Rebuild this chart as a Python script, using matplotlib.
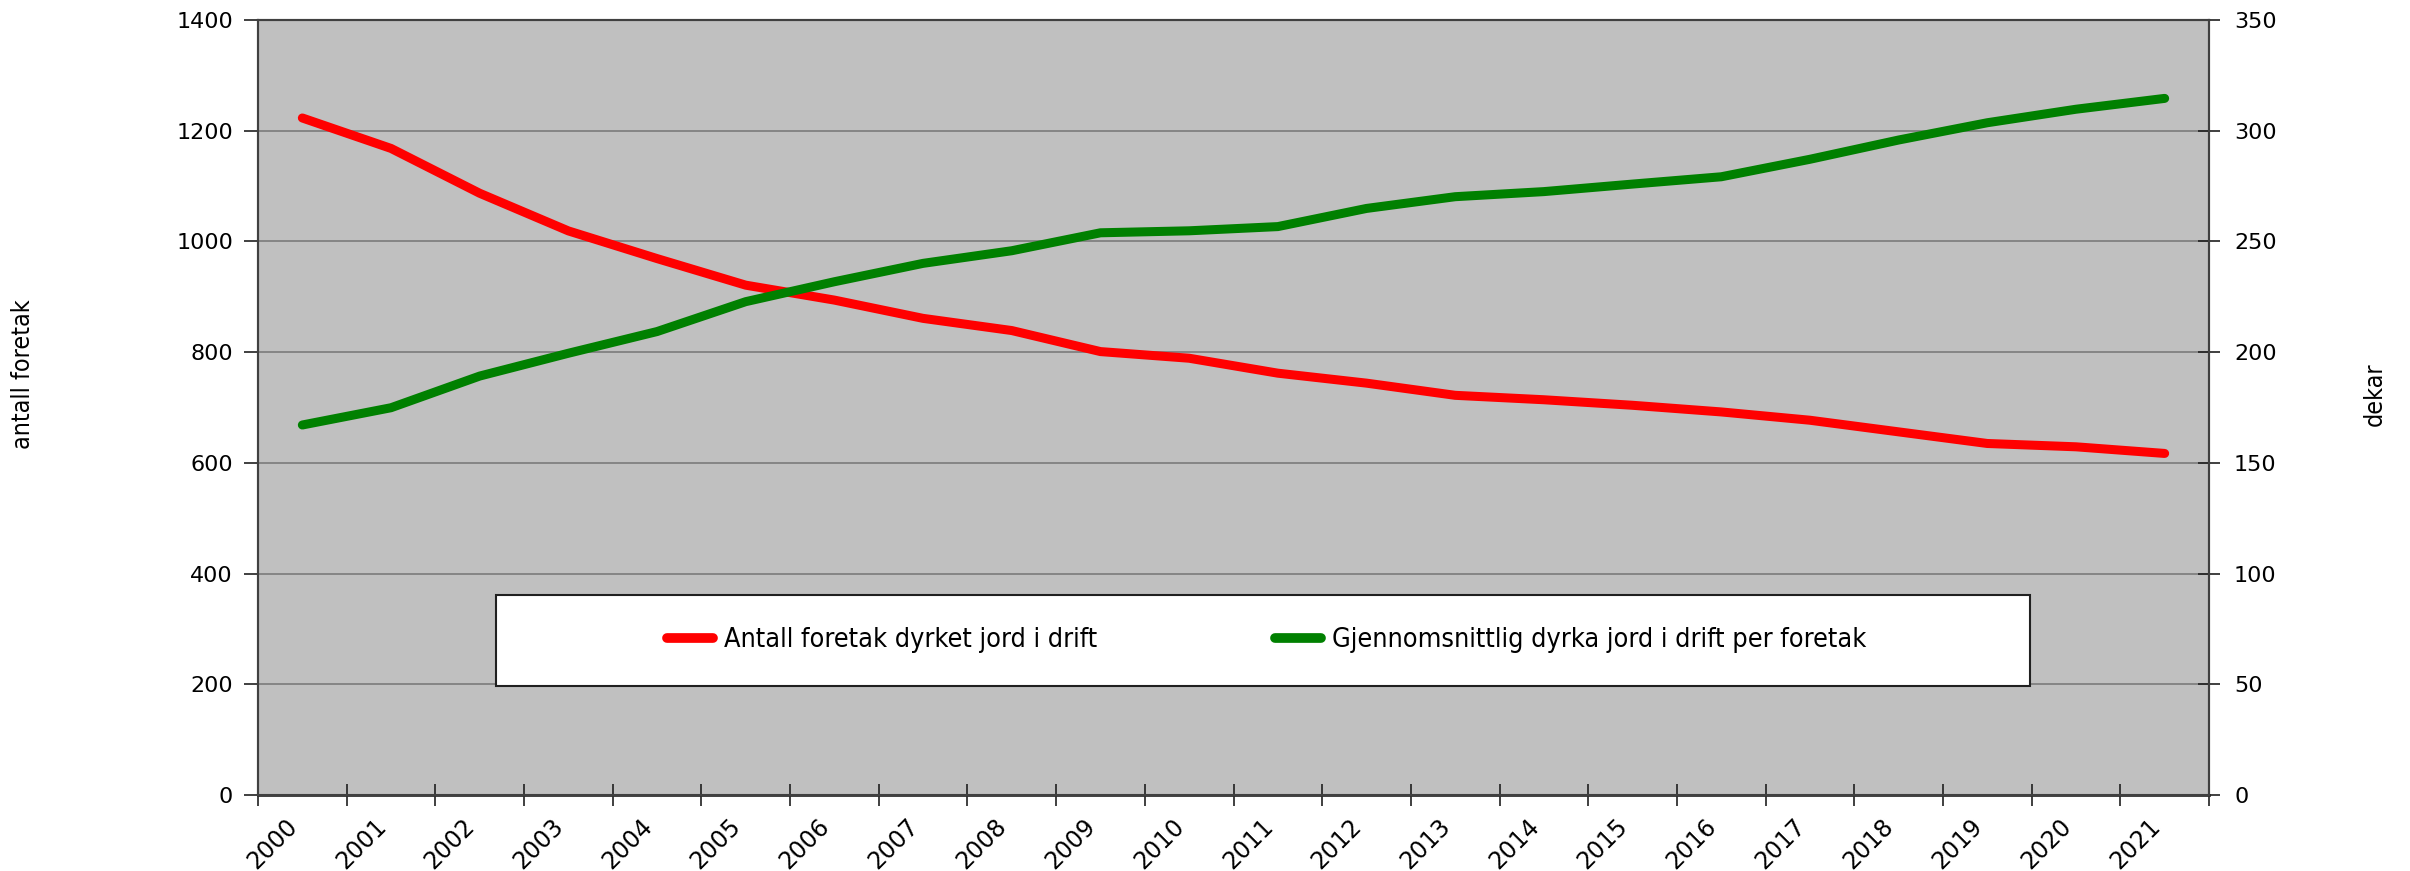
import matplotlib
matplotlib.use("Agg")
import matplotlib.pyplot as plt
from matplotlib.patches import Rectangle
from matplotlib.lines import Line2D
from matplotlib.font_manager import FontProperties

years = [str(y) for y in range(2000, 2022)]
antall_foretak = [1223, 1168, 1087, 1019, 969, 921, 894, 861, 839, 801, 789,
                  762, 744, 722, 714, 704, 692, 677, 656, 635, 629, 617]
snitt_dekar = [167.1, 174.9, 189.2, 199.5, 209.3, 222.8, 231.8, 240.1, 245.8, 253.9, 254.8,
               256.7, 264.9, 270.2, 272.5, 275.9, 279.2, 287.1, 295.8, 303.6, 309.7, 314.6]
label_red = "Antall foretak dyrket jord i drift"
label_green = "Gjennomsnittlig dyrka jord i drift per foretak"
left_ticks = [0, 200, 400, 600, 800, 1000, 1200, 1400]
right_ticks = [0, 50, 100, 150, 200, 250, 300, 350]

W, H = 2410, 871
fig = plt.figure(figsize=(W / 100, H / 100), dpi=100)
L, R, T, B = 258, 2209, 20, 795
ax = fig.add_axes([L / W, 1 - B / H, (R - L) / W, (B - T) / H])
ax2 = ax.twinx()

ax.set_facecolor("#C0C0C0")
x = list(range(len(years)))
ax.plot(x, antall_foretak, color="#FF0000", lw=6.5, solid_capstyle="round", solid_joinstyle="round", zorder=3)
ax2.plot(x, snitt_dekar, color="#008000", lw=6.5, solid_capstyle="round", solid_joinstyle="round", zorder=3)

ax.set_xlim(-0.5, len(years) - 0.5)
ax.set_ylim(0, 1400)
ax2.set_ylim(0, 350)
ax.set_yticks(left_ticks)
ax2.set_yticks(right_ticks)
ax.yaxis.grid(True, color="#808080", lw=1.3)
ax.set_axisbelow(True)

ax.set_xticks([i - 0.5 for i in range(len(years) + 1)])
ax.set_xticklabels([])
ax.set_xticks(x, minor=True)
ax.set_xticklabels(years, minor=True, rotation=45, ha="right", va="top", fontsize=17)
ax.tick_params(axis="x", which="minor", length=0, pad=14)
ax.tick_params(axis="x", which="major", direction="inout", length=16, width=1.2, color="#202020")
ax.tick_params(axis="y", direction="out", length=10, width=1.2, labelsize=16, pad=8, color="#202020")
ax2.tick_params(axis="y", direction="inout", length=16, width=1.2, labelsize=16, pad=10, color="#202020")

for a in (ax, ax2):
    for s in a.spines.values():
        s.set_color("#404040")
        s.set_linewidth(1.5)
ax.spines["bottom"].set_color("#303030")
ax.spines["bottom"].set_linewidth(2)

cond_lab = FontProperties(family="DejaVu Sans", stretch="condensed", size=18)
fig.text(23 / W, 1 - 374 / H, "antall foretak", rotation=90, ha="center", va="center",
         fontproperties=cond_lab)
fig.text(2375 / W, 1 - 394 / H, "dekar", rotation=90, ha="center", va="center",
         fontproperties=cond_lab)

# legend box
box = Rectangle((0.122, 0.141), 0.786, 0.117, transform=ax2.transAxes,
                facecolor="white", edgecolor="#202020", lw=1.5, zorder=5)
ax2.add_patch(box)
handles = [Line2D([], [], color="#FF0000", lw=7, solid_capstyle="round"),
           Line2D([], [], color="#008000", lw=7, solid_capstyle="round")]
cond_leg = FontProperties(family="DejaVu Sans", stretch="condensed", size=19.4)
leg = ax2.legend(handles, [label_red, label_green], loc="center",
                 bbox_to_anchor=(0.517, 0.1995), bbox_transform=ax2.transAxes,
                 ncol=2, frameon=False, prop=cond_leg,
                 handlelength=1.7, handletextpad=0.4, columnspacing=6.6)
leg.set_zorder(6)

fig.savefig("out.png", dpi=100)
